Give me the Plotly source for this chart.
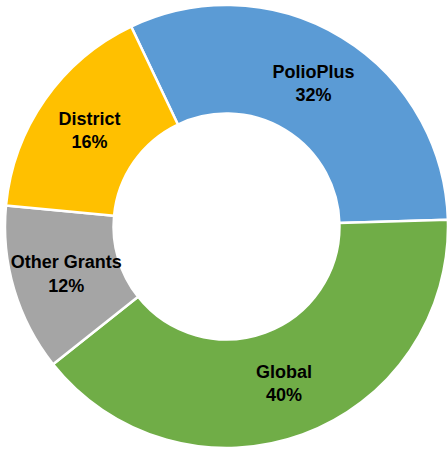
import plotly.graph_objects as go

labels = ["PolioPlus", "Global", "Other Grants", "District"]
values = [31.6, 39.8, 12.2, 16.4]   # shares (labels show rounded %)
colors = ["#5B9BD5", "#70AD47", "#A5A5A5", "#FFC000"]

W, H = 448, 453

fig = go.Figure(go.Pie(
    labels=labels,
    values=values,
    sort=False,
    direction="clockwise",
    rotation=-25.5,
    hole=0.51,
    marker=dict(colors=colors, line=dict(color="white", width=2.5)),
    texttemplate="%{label}<br>%{percent:.0%}",
    textposition="inside",
    insidetextorientation="horizontal",
    textfont=dict(family="Arial, Liberation Sans, sans-serif", size=18, color="#000000", weight="bold"),
    hoverinfo="label+percent",
    domain=dict(x=[5 / W, 1], y=[5 / H, 448 / H]),
))

fig.update_layout(
    width=W, height=H,
    margin=dict(l=0, r=0, t=0, b=0),
    showlegend=False,
    paper_bgcolor="white",
    plot_bgcolor="white",
    uniformtext=dict(minsize=18, mode="show"),
)

fig.write_html(
    "out.html",
    config={"displayModeBar": False},
    post_script="document.body.style.margin='0';document.body.style.overflow='hidden';",
)
